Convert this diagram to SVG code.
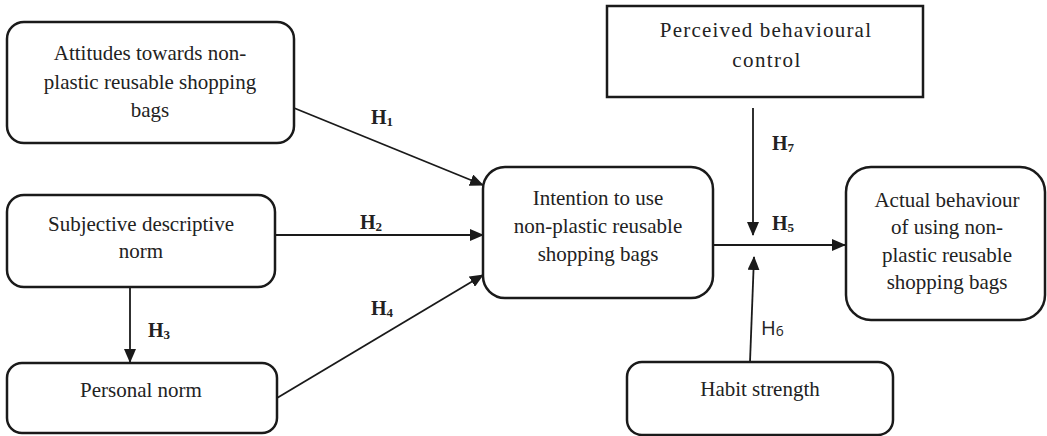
<svg xmlns="http://www.w3.org/2000/svg" width="1047" height="436" viewBox="0 0 1047 436">
<style>
.box{fill:#fff;stroke:#1a1a1a;stroke-width:2.5}
.t{font-family:"Liberation Serif","Times New Roman",serif;font-size:21px;fill:#222;text-anchor:middle}
.h{font-family:"Liberation Serif","Times New Roman",serif;font-size:20px;font-weight:bold;fill:#222}
.hs{font-family:"Open Sans","Noto Sans",sans-serif;font-size:20px;fill:#222}
.c{stroke:#1a1a1a;stroke-width:1.8;fill:none}
</style>
<defs>
<marker id="ah" markerUnits="userSpaceOnUse" markerWidth="14" markerHeight="12" refX="13" refY="6" orient="auto">
<path d="M0,0 L14,6 L0,12 z" fill="#1a1a1a"/>
</marker>
</defs>
<rect width="1047" height="436" fill="#fff"/>
<g id="attitudes">
<rect class="box" x="7" y="22" width="287" height="121" rx="17"/>
<text class="t" x="150" y="60">Attitudes towards non-</text>
<text class="t" x="150" y="89">plastic reusable shopping</text>
<text class="t" x="150" y="117">bags</text>
</g>
<g id="subjective">
<rect class="box" x="7" y="195" width="268" height="92" rx="17"/>
<text class="t" x="141" y="231">Subjective descriptive</text>
<text class="t" x="141" y="258">norm</text>
</g>
<g id="personal">
<rect class="box" x="7" y="363" width="270" height="70" rx="15"/>
<text class="t" x="141" y="397">Personal norm</text>
</g>
<g id="intention">
<rect class="box" x="483" y="167" width="230" height="131" rx="22"/>
<text class="t" x="598" y="205">Intention to use</text>
<text class="t" x="598" y="233">non-plastic reusable</text>
<text class="t" x="598" y="261">shopping bags</text>
</g>
<g id="pbc">
<rect class="box" x="607" y="6" width="316" height="91"/>
<text class="t" x="766" y="37" letter-spacing="1.2">Perceived behavioural</text>
<text class="t" x="767" y="67" letter-spacing="1.4">control</text>
</g>
<g id="actual">
<rect class="box" x="846" y="167" width="199" height="153" rx="25"/>
<text class="t" x="947" y="207">Actual behaviour</text>
<text class="t" x="947" y="234">of using non-</text>
<text class="t" x="947" y="262">plastic reusable</text>
<text class="t" x="947" y="289">shopping bags</text>
</g>
<g id="habit">
<rect class="box" x="627" y="362" width="266" height="73" rx="15"/>
<text class="t" x="760" y="396">Habit strength</text>
</g>
<g id="connectors">
<line class="c" x1="294" y1="108" x2="483" y2="185" marker-end="url(#ah)"/>
<line class="c" x1="275" y1="235" x2="483" y2="235" marker-end="url(#ah)"/>
<line class="c" x1="277" y1="398" x2="483" y2="275" marker-end="url(#ah)"/>
<line class="c" x1="130" y1="287" x2="130" y2="362" marker-end="url(#ah)"/>
<line class="c" x1="753" y1="108" x2="753" y2="235" marker-end="url(#ah)"/>
<line class="c" x1="713" y1="245" x2="845" y2="245" marker-end="url(#ah)"/>
<line class="c" x1="750" y1="362" x2="754" y2="257" marker-end="url(#ah)"/>
</g>
<g id="labels">
<text class="h" x="371" y="124">H<tspan font-size="13" dy="2">1</tspan></text>
<text class="h" x="360" y="229">H<tspan font-size="13" dy="2">2</tspan></text>
<text class="h" x="148" y="337">H<tspan font-size="13" dy="2">3</tspan></text>
<text class="h" x="371" y="315">H<tspan font-size="13" dy="2">4</tspan></text>
<text class="h" x="772" y="230">H<tspan font-size="13" dy="2">5</tspan></text>
<text class="hs" x="761" y="335">H<tspan font-size="14" dy="1">6</tspan></text>
<text class="h" x="772" y="150">H<tspan font-size="13" dy="2">7</tspan></text>
</g>
</svg>
